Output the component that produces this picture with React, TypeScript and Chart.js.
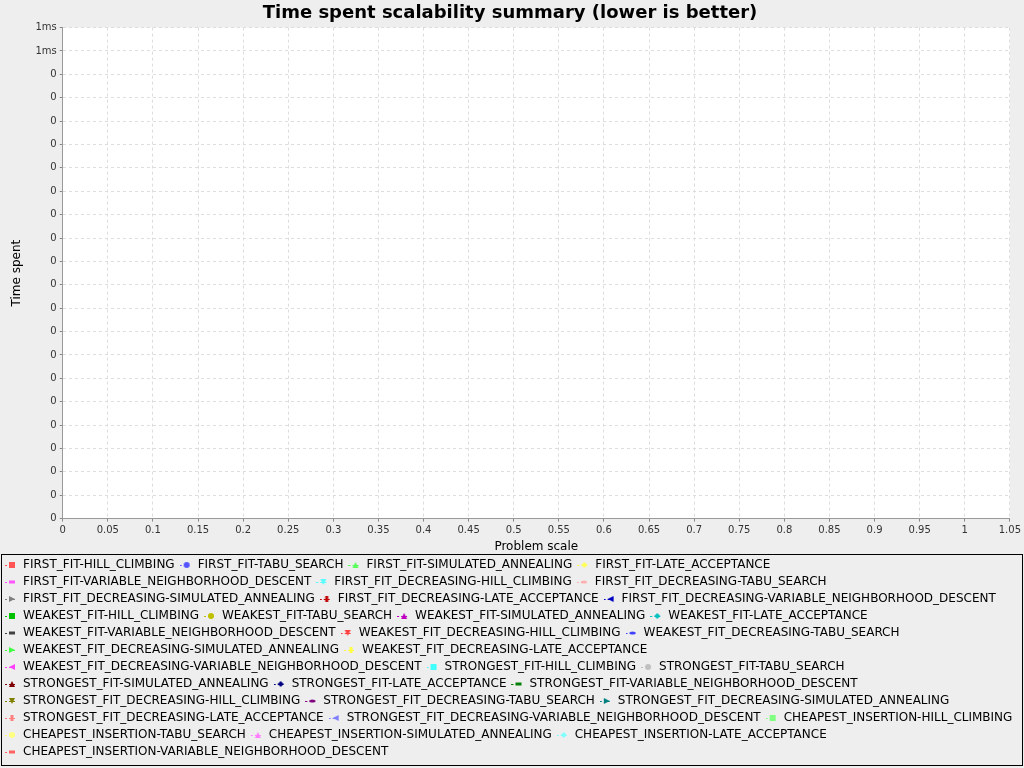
import React, { useEffect, useRef } from 'react';
import Chart from 'chart.js/auto';

const seriesNames = [
  'FIRST_FIT-HILL_CLIMBING', 'FIRST_FIT-TABU_SEARCH', 'FIRST_FIT-SIMULATED_ANNEALING', 'FIRST_FIT-LATE_ACCEPTANCE',
  'FIRST_FIT-VARIABLE_NEIGHBORHOOD_DESCENT', 'FIRST_FIT_DECREASING-HILL_CLIMBING', 'FIRST_FIT_DECREASING-TABU_SEARCH',
  'FIRST_FIT_DECREASING-SIMULATED_ANNEALING', 'FIRST_FIT_DECREASING-LATE_ACCEPTANCE', 'FIRST_FIT_DECREASING-VARIABLE_NEIGHBORHOOD_DESCENT',
  'WEAKEST_FIT-HILL_CLIMBING', 'WEAKEST_FIT-TABU_SEARCH', 'WEAKEST_FIT-SIMULATED_ANNEALING', 'WEAKEST_FIT-LATE_ACCEPTANCE',
  'WEAKEST_FIT-VARIABLE_NEIGHBORHOOD_DESCENT', 'WEAKEST_FIT_DECREASING-HILL_CLIMBING', 'WEAKEST_FIT_DECREASING-TABU_SEARCH',
  'WEAKEST_FIT_DECREASING-SIMULATED_ANNEALING', 'WEAKEST_FIT_DECREASING-LATE_ACCEPTANCE',
  'WEAKEST_FIT_DECREASING-VARIABLE_NEIGHBORHOOD_DESCENT', 'STRONGEST_FIT-HILL_CLIMBING', 'STRONGEST_FIT-TABU_SEARCH',
  'STRONGEST_FIT-SIMULATED_ANNEALING', 'STRONGEST_FIT-LATE_ACCEPTANCE', 'STRONGEST_FIT-VARIABLE_NEIGHBORHOOD_DESCENT',
  'STRONGEST_FIT_DECREASING-HILL_CLIMBING', 'STRONGEST_FIT_DECREASING-TABU_SEARCH', 'STRONGEST_FIT_DECREASING-SIMULATED_ANNEALING',
  'STRONGEST_FIT_DECREASING-LATE_ACCEPTANCE', 'STRONGEST_FIT_DECREASING-VARIABLE_NEIGHBORHOOD_DESCENT',
  'CHEAPEST_INSERTION-HILL_CLIMBING', 'CHEAPEST_INSERTION-TABU_SEARCH', 'CHEAPEST_INSERTION-SIMULATED_ANNEALING',
  'CHEAPEST_INSERTION-LATE_ACCEPTANCE', 'CHEAPEST_INSERTION-VARIABLE_NEIGHBORHOOD_DESCENT',
];

const seriesColors = [
  '#ff5555', '#5555ff', '#55ff55', '#ffff55', '#ff55ff', '#55ffff', '#ffafaf', '#808080', '#c00000', '#0000c0',
  '#00c000', '#c0c000', '#c000c0', '#00c0c0', '#404040', '#ff4040', '#4040ff', '#40ff40', '#ffff40', '#ff40ff',
  '#40ffff', '#c0c0c0', '#800000', '#000080', '#008000', '#808000', '#800080', '#008080', '#ff8080', '#8080ff',
  '#80ff80', '#ffff80', '#ff80ff', '#80ffff', '#ff6060',
];

const shapes = ['square', 'circle', 'up', 'diamond', 'hrect', 'down', 'hellipse', 'right', 'vrect', 'left'];

const xTickLabels = ['0', '0.05', '0.1', '0.15', '0.2', '0.25', '0.3', '0.35', '0.4', '0.45', '0.5', '0.55',
  '0.6', '0.65', '0.7', '0.75', '0.8', '0.85', '0.9', '0.95', '1', '1.05'];
const yTickLabels = ['0', '0', '0', '0', '0', '0', '0', '0', '0', '0', '0', '0', '0', '0', '0', '0', '0', '0',
  '0', '0', '1ms', '1ms'];

function makeIcon(color: string, shape: string) {
  const c = document.createElement('canvas');
  c.width = 12;
  c.height = 8;
  const g = c.getContext('2d')!;
  g.strokeStyle = color;
  g.fillStyle = color;
  g.lineWidth = 1;
  g.setLineDash([2, 2]);
  g.beginPath();
  g.moveTo(0, 4.5);
  g.lineTo(12, 4.5);
  g.stroke();
  const cx = 7, cy = 4;
  g.beginPath();
  switch (shape) {
    case 'square': g.rect(cx - 3, cy - 3, 6, 6); break;
    case 'circle': g.arc(cx, cy, 3, 0, Math.PI * 2); break;
    case 'up': g.moveTo(cx, cy - 3); g.lineTo(cx + 3, cy + 3); g.lineTo(cx - 3, cy + 3); break;
    case 'diamond': g.moveTo(cx, cy - 3); g.lineTo(cx + 3, cy); g.lineTo(cx, cy + 3); g.lineTo(cx - 3, cy); break;
    case 'hrect': g.rect(cx - 3, cy - 1.5, 6, 3); break;
    case 'down': g.moveTo(cx - 3, cy - 3); g.lineTo(cx + 3, cy - 3); g.lineTo(cx, cy + 3); break;
    case 'hellipse': g.ellipse(cx, cy, 3, 1.5, 0, 0, Math.PI * 2); break;
    case 'right': g.moveTo(cx - 3, cy - 3); g.lineTo(cx + 3, cy); g.lineTo(cx - 3, cy + 3); break;
    case 'vrect': g.rect(cx - 1.5, cy - 3, 3, 6); break;
    case 'left': g.moveTo(cx + 3, cy - 3); g.lineTo(cx - 3, cy); g.lineTo(cx + 3, cy + 3); break;
  }
  g.closePath();
  g.fill();
  return c;
}

const chromePlugin = {
  id: 'chrome',
  beforeDraw(chart: any) {
    const { ctx, chartArea: a } = chart;
    ctx.save();
    ctx.fillStyle = '#eeeeee';
    ctx.fillRect(0, 0, chart.width, chart.height);
    ctx.fillStyle = '#ffffff';
    ctx.fillRect(a.left, a.top, a.right - a.left, a.bottom - a.top);
    ctx.restore();
  },
  afterDraw(chart: any) {
    const l = chart.legend;
    const ctx = chart.ctx;
    ctx.save();
    ctx.strokeStyle = '#000000';
    ctx.lineWidth = 1;
    ctx.strokeRect(1.5, l.top + 0.5, chart.width - 3, chart.height - l.top - 3);
    ctx.restore();
  },
};

export default function App() {
  const canvasRef = useRef<HTMLCanvasElement>(null);

  useEffect(() => {
    document.body.style.margin = '0';
    const datasets = seriesNames.map((name, i) => ({
      label: name,
      data: [] as any[],
      borderColor: seriesColors[i],
      backgroundColor: seriesColors[i],
      pointStyle: makeIcon(seriesColors[i], shapes[i % shapes.length]),
    }));
    const chart = new Chart(canvasRef.current!, {
      type: 'line',
      data: { datasets },
      options: {
        animation: false,
        responsive: false,
        layout: { padding: { left: 0, right: 4, top: 0, bottom: 0 } },
        font: { family: 'DejaVu Sans' },
        plugins: {
          title: {
            display: true,
            text: 'Time spent scalability summary (lower is better)',
            color: '#000',
            font: { family: 'DejaVu Sans', size: 18, weight: 'bold' },
            padding: { top: 3, bottom: 3 },
          },
          legend: {
            position: 'bottom',
            align: 'start',
            labels: {
              usePointStyle: true,
              pointStyleWidth: 12,
              boxHeight: 8,
              color: '#000',
              font: { family: 'DejaVu Sans', size: 12, lineHeight: 1.25 },
              padding: 5,
            },
          },
          tooltip: { enabled: false },
        },
        scales: {
          x: {
            type: 'linear',
            min: 0,
            max: 1.05,
            ticks: {
              stepSize: 0.05,
              color: '#333',
              font: { family: 'DejaVu Sans', size: 10 },
              maxRotation: 0,
              autoSkip: false,
              callback: (_v: any, i: number) => xTickLabels[i],
            },
            grid: { color: '#dddddd', tickColor: '#888', tickLength: 3 },
            border: { color: '#999', dash: [3, 3] },
            title: { display: true, text: 'Problem scale', color: '#000', font: { family: 'DejaVu Sans', size: 12 }, padding: 0 },
          },
          y: {
            type: 'linear',
            min: 0,
            max: 21,
            ticks: {
              stepSize: 1,
              color: '#333',
              font: { family: 'DejaVu Sans', size: 10 },
              autoSkip: false,
              callback: (_v: any, i: number) => yTickLabels[i],
            },
            grid: { color: '#dddddd', tickColor: '#888', tickLength: 3 },
            border: { color: '#999', dash: [3, 3] },
            title: { display: true, text: 'Time spent', color: '#000', font: { family: 'DejaVu Sans', size: 12 }, padding: { top: 10, bottom: 8 } },
          },
        },
      },
      plugins: [chromePlugin],
    } as any);
    return () => chart.destroy();
  }, []);

  return (
    <div style={{ width: 1024, height: 768 }}>
      <canvas ref={canvasRef} width={1024} height={768} style={{ width: 1024, height: 768 }} />
    </div>
  );
}
